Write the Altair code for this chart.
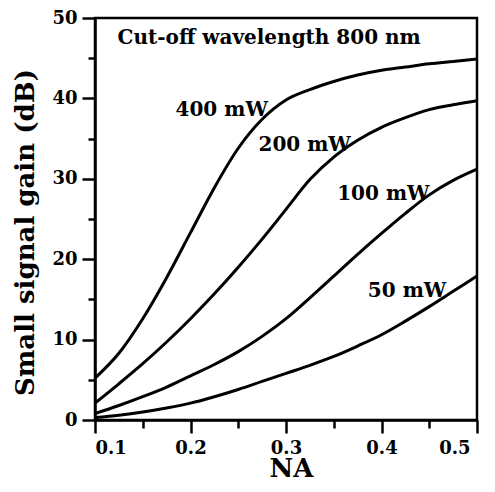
import altair as alt
import pandas as pd

na = [0.1, 0.125, 0.15, 0.175, 0.2, 0.225, 0.25, 0.275, 0.3, 0.325, 0.35,
      0.375, 0.4, 0.425, 0.45, 0.475, 0.5]
gain_400 = [5.2, 8.3, 12.6, 17.7, 23.3, 28.9, 33.8, 37.4, 39.8, 41.1, 42.1,
            42.9, 43.5, 43.9, 44.3, 44.6, 44.9]
gain_200 = [2.1, 4.5, 7.0, 9.7, 12.6, 15.7, 19.0, 22.5, 26.2, 29.9, 32.7,
            34.8, 36.4, 37.6, 38.6, 39.2, 39.7]
gain_100 = [0.8, 1.8, 2.9, 4.1, 5.5, 6.9, 8.5, 10.4, 12.6, 15.2, 17.9,
            20.6, 23.2, 25.7, 28.0, 29.8, 31.2]
gain_50 = [0.3, 0.6, 1.0, 1.5, 2.1, 2.9, 3.8, 4.8, 5.8, 6.8, 7.9,
           9.2, 10.6, 12.3, 14.1, 16.0, 17.9]

series_names = ["400 mW", "200 mW", "100 mW", "50 mW"]
series_values = [gain_400, gain_200, gain_100, gain_50]

label_texts = ["Cut-off wavelength 800 nm", "400 mW", "200 mW", "100 mW", "50 mW"]
label_na = [0.1236, 0.1843, 0.2712, 0.3536, 0.3857]
label_gain = [46.75, 37.75, 33.4, 27.4, 15.26]

x_major = [0.1, 0.2, 0.3, 0.4, 0.5]
x_minor = [0.15, 0.25, 0.35, 0.45]
y_major = [0, 10, 20, 30, 40, 50]
y_minor = [5, 15, 25, 35, 45]

rows = []
for name, vals in zip(series_names, series_values):
    for x, y in zip(na, vals):
        rows.append({"series": name, "NA": x, "gain": y})
df = pd.DataFrame(rows)
labels_df = pd.DataFrame({"text": label_texts, "NA": label_na, "gain": label_gain})

FONT = "DejaVu Serif"

x_scale = alt.Scale(domain=[0.1, 0.5], nice=False, zero=False)
y_scale = alt.Scale(domain=[0, 50], nice=False, zero=False)

x_axis_major = alt.Axis(
    orient="bottom",
    values=x_major,
    format=".1f",
    tickSize=13,
    grid=False,
    labelPadding=6,
    labelFontSize=18,
    labelOffset={"condition": {"test": "datum.value > 0.45", "value": -7}, "value": 0},
    title="NA",
    titleFontSize=26,
    titleX=196,
    titleY=56,
    titleBaseline="alphabetic",
    titleAlign="center",
)
y_axis_major = alt.Axis(
    orient="left",
    values=y_major,
    tickSize=13,
    grid=False,
    labelPadding=5,
    labelFontSize=18,
    title="Small signal gain (dB)",
    titleFontSize=26,
    titleX=-62,
    titleY=214,
    titleAngle=-90,
    titleBaseline="alphabetic",
    titleAlign="center",
)
x_axis_minor = alt.Axis(
    orient="bottom", values=x_minor, tickSize=8, labels=False, title=None,
    grid=False, domain=False,
)
y_axis_minor = alt.Axis(
    orient="left", values=y_minor, tickSize=7, labels=False, title=None,
    grid=False, domain=False,
)

lines = alt.Chart(df).mark_line(color="black", strokeWidth=3, interpolate="monotone").encode(
    x=alt.X("NA:Q", scale=x_scale, axis=x_axis_major),
    y=alt.Y("gain:Q", scale=y_scale, axis=y_axis_major),
    detail="series:N",
)

texts = alt.Chart(labels_df).mark_text(
    align="left", baseline="alphabetic", font=FONT, fontWeight="bold", fontSize=20, color="black"
).encode(
    x=alt.X("NA:Q", scale=x_scale, axis=x_axis_minor),
    y=alt.Y("gain:Q", scale=y_scale, axis=y_axis_minor),
    text="text:N",
)

chart = alt.layer(lines, texts).resolve_axis(
    x="independent", y="independent"
).properties(
    width=382,
    height=402,
    autosize=alt.AutoSizeParams(type="none"),
    padding={"left": 87, "top": 10, "right": 10, "bottom": 60},
    background="white",
).configure_view(
    stroke="black", strokeWidth=2.5
).configure_axis(
    domainColor="black",
    domainWidth=2.5,
    tickColor="black",
    tickWidth=2.5,
    labelColor="black",
    titleColor="black",
    labelFont=FONT,
    titleFont=FONT,
    labelFontWeight="bold",
    titleFontWeight="bold",
)

chart.save("out.html", embed_options={"renderer": "svg", "actions": False})
